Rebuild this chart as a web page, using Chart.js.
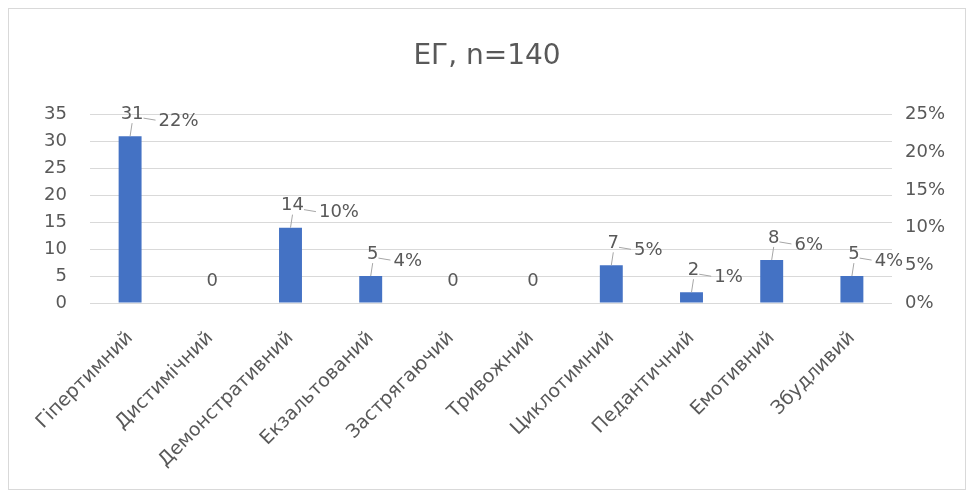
<!DOCTYPE html>
<html lang="uk">
<head>
    <meta charset="UTF-8">
    <title>ЕГ, n=140</title>
    <script src="https://cdn.jsdelivr.net/npm/chart.js"></script>
    <style>
        body {
            margin: 0;
            background: #fff;
        }
        .chart-container {
            position: absolute;
            left: 8px;
            top: 8px;
            width: 958px;
            height: 482px;
            border: 1px solid #d9d9d9;
            box-sizing: border-box;
        }
    </style>
</head>
<body>
<div class="chart-container">
    <canvas id="egChart"></canvas>
</div>

<script>
    const categories = ['Гіпертимний', 'Дистимічний', 'Демонстративний', 'Екзальтований', 'Застрягаючий',
        'Тривожний', 'Циклотимний', 'Педантичний', 'Емотивний', 'Збудливий'];
    const counts = [31, 0, 14, 5, 0, 0, 7, 2, 8, 5];
    const percents = [22, 0, 10, 4, 0, 0, 5, 1, 6, 4];

    const textColor = '#595959';
    const fontFamily = "'DejaVu Sans', 'Open Sans', sans-serif";

    // Excel-style callouts: count above the bar, percent to its right
    const calloutPlugin = {
        id: 'callouts',
        afterDatasetsDraw(chart) {
            const ctx = chart.ctx;
            const bars = chart.getDatasetMeta(0).data;
            ctx.save();
            ctx.font = '18px ' + fontFamily;
            ctx.fillStyle = textColor;
            ctx.strokeStyle = '#a6a6a6';
            ctx.lineWidth = 1;
            ctx.textBaseline = 'middle';
            bars.forEach((bar, i) => {
                const x = bar.x;
                const y = bar.y;
                const cx = x + 2;
                const cy = y - 22;
                ctx.textAlign = 'center';
                ctx.fillText(String(counts[i]), cx, cy);
                if (counts[i] > 0) {
                    const w = ctx.measureText(String(counts[i])).width;
                    ctx.beginPath();
                    ctx.moveTo(x, y);
                    ctx.lineTo(cx, cy + 9);
                    ctx.stroke();
                    const px = cx + w / 2 + 15;
                    const py = cy + 7;
                    ctx.beginPath();
                    ctx.moveTo(cx + w / 2, cy + 4);
                    ctx.lineTo(px - 3, py - 1);
                    ctx.stroke();
                    ctx.textAlign = 'left';
                    ctx.fillText(percents[i] + '%', px, py);
                }
            });
            ctx.restore();
        }
    };

    new Chart(document.getElementById('egChart').getContext('2d'), {
        type: 'bar',
        data: {
            labels: categories,
            datasets: [{
                label: 'Кількість',
                data: counts,
                backgroundColor: '#4472c4',
                barPercentage: 0.55,
                categoryPercentage: 0.52,
                yAxisID: 'y'
            }, {
                type: 'line',
                label: '%',
                data: percents.map(p => p / 100),
                showLine: false,
                pointRadius: 0,
                yAxisID: 'y1'
            }]
        },
        options: {
            responsive: true,
            maintainAspectRatio: false,
            animation: false,
            layout: { padding: { left: 0, right: 0, top: 10, bottom: 0 } },
            scales: {
                x: {
                    grid: { display: false },
                    border: { display: false },
                    afterFit: s => { s.height = 186; },
                    ticks: {
                        color: textColor,
                        font: { family: fontFamily, size: 19 },
                        minRotation: 45,
                        maxRotation: 45,
                        autoSkip: false,
                        padding: 16
                    }
                },
                y: {
                    min: 0,
                    max: 35,
                    afterFit: s => { s.width = 81; },
                    ticks: {
                        stepSize: 5,
                        color: textColor,
                        font: { family: fontFamily, size: 18 },
                        padding: 23
                    },
                    grid: { color: '#d9d9d9', drawTicks: false },
                    border: { display: false }
                },
                y1: {
                    position: 'right',
                    min: 0,
                    max: 0.25,
                    afterFit: s => { s.width = 73; },
                    ticks: {
                        stepSize: 0.05,
                        color: textColor,
                        font: { family: fontFamily, size: 18 },
                        padding: 13,
                        callback: v => Math.round(v * 100) + '%'
                    },
                    grid: { display: false, drawTicks: false },
                    border: { display: false }
                }
            },
            plugins: {
                legend: { display: false },
                tooltip: { enabled: false },
                title: {
                    display: true,
                    text: 'ЕГ, n=140',
                    color: textColor,
                    font: { family: fontFamily, size: 28, weight: 'normal' },
                    padding: { top: 21, bottom: 41 }
                }
            }
        },
        plugins: [calloutPlugin]
    });
</script>
</body>
</html>
